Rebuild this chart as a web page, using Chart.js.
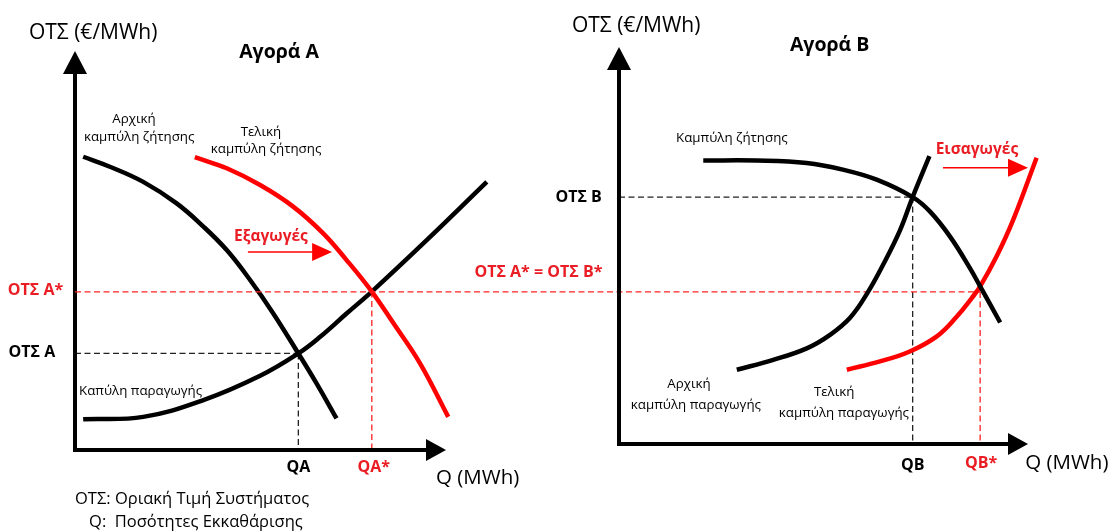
<!DOCTYPE html>
<html>
<head>
<meta charset="utf-8">
<script src="https://cdn.jsdelivr.net/npm/chart.js@4.4.0/dist/chart.umd.min.js"></script>
<style>
  body { margin: 0; background: #fff; }
  #wrap { position: relative; width: 1113px; height: 532px; }
  canvas { position: absolute; left: 0; top: 0; }
</style>
</head>
<body>
<div id="wrap">
  <canvas id="market-a" width="1113" height="532"></canvas>
  <canvas id="market-b" width="1113" height="532"></canvas>
</div>
<script>
// Αγορά Α  -- points are [Q, ΟΤΣ]
var demandA0 = [[2.2,73.5],[9.4,71],[18.4,67.2],[27.4,61.8],[34.6,56],[40.9,50.1],[47.2,42.6],[53.4,34.3],[60.2,24.2],[65.1,16.7],[70.5,7.9]];
var demandA1 = [[32.3,73.4],[40.9,70.6],[49.9,66.4],[58.8,61],[66.9,54.3],[73.2,47.6],[80,39.7],[85.8,31.8],[93,21.7],[100.6,8.3]];
var supplyA  = [[2.2,7.7],[18.4,8.3],[34.6,12.5],[49.9,18.6],[60.2,24.2],[66,28.3],[73.2,34.2],[80,39.7],[94.8,52.6],[111,67.2]];

// Αγορά Β
var demandB  = [[20.6,71.4],[33.7,71.4],[45.9,70.8],[54.8,69.1],[63,66.6],[71.8,62.2],[76,58.6],[80.9,52.3],[85.8,44.3],[88.3,39.7],[93.2,30.6]];
var supplyB0 = [[28.8,18.7],[37.7,21.2],[45.9,24.1],[51.6,27.5],[56.5,31.8],[60.6,37.8],[64.6,45.2],[68.7,53.8],[71.8,62.2],[75.9,72.5]];
var supplyB1 = [[55.7,18.7],[63.8,20.8],[71.1,23.3],[77.7,27.1],[82.6,32.1],[86.2,36.7],[88.3,39.7],[92.3,47.2],[96.4,56.5],[102.1,72.1]];

// equilibria [Q, ΟΤΣ]
var eqA  = [60.2, 24.2];
var eqAs = [80, 39.7];
var eqB  = [71.8, 62.2];
var eqBs = [88.3, 38.3];

// tick labels
var yLabelsA = ['ΟΤΣ Α', 'ΟΤΣ Α*'];
var xLabelsA = ['QA', 'QA*'];
var yLabelsB = ['ΟΤΣ Β', 'ΟΤΣ Α* = ΟΤΣ Β*'];
var xLabelsB = ['QB', 'QB*'];

var RED = '#ff0000';
var RED_TXT = '#ea1c24';
var FONT = "'Open Sans', 'Noto Sans', sans-serif";

function pts(arr) {
  return arr.map(function (d) { return { x: d[0], y: d[1] }; });
}

function curve(arr, color) {
  return {
    data: pts(arr),
    showLine: true,
    borderColor: color,
    borderWidth: 4.5,
    pointRadius: 0,
    tension: 0.4,
    clip: false
  };
}

function X(chart, q) { return chart.scales.x.getPixelForValue(q); }
function Y(chart, p) { return chart.scales.y.getPixelForValue(p); }

function txt(ctx, s, x, y, font, color, align) {
  ctx.save();
  ctx.font = font + ' ' + FONT;
  ctx.fillStyle = color;
  ctx.textAlign = align || 'center';
  ctx.textBaseline = 'middle';
  ctx.fillText(s, x, y);
  ctx.restore();
}

function dash(ctx, x1, y1, x2, y2, color) {
  ctx.save();
  ctx.strokeStyle = color;
  ctx.lineWidth = 1.3;
  ctx.setLineDash([6, 3.5]);
  ctx.beginPath();
  ctx.moveTo(x1, y1);
  ctx.lineTo(x2, y2);
  ctx.stroke();
  ctx.restore();
}

function tri(ctx, a, b, c, color) {
  ctx.save();
  ctx.fillStyle = color;
  ctx.beginPath();
  ctx.moveTo(a[0], a[1]);
  ctx.lineTo(b[0], b[1]);
  ctx.lineTo(c[0], c[1]);
  ctx.closePath();
  ctx.fill();
  ctx.restore();
}

function axes(chart) {
  var ctx = chart.ctx, a = chart.chartArea;
  ctx.save();
  ctx.strokeStyle = '#000';
  ctx.lineWidth = 4;
  ctx.beginPath();
  ctx.moveTo(a.left, a.top + 20);
  ctx.lineTo(a.left, a.bottom);
  ctx.lineTo(a.right - 18, a.bottom);
  ctx.stroke();
  ctx.restore();
  tri(ctx, [a.left - 12, a.top + 23], [a.left + 12, a.top + 23], [a.left, a.top], '#000');
  tri(ctx, [a.right - 20, a.bottom - 11], [a.right - 20, a.bottom + 11], [a.right, a.bottom], '#000');
}

function arrow(ctx, x1, x2, y) {
  ctx.save();
  ctx.strokeStyle = RED;
  ctx.lineWidth = 1.5;
  ctx.beginPath();
  ctx.moveTo(x1, y);
  ctx.lineTo(x2 - 18, y);
  ctx.stroke();
  ctx.restore();
  tri(ctx, [x2 - 20, y - 9], [x2 - 20, y + 9], [x2, y], RED);
}

// labels placed in data units of each market
var notesA = [
  { t: 'ΟΤΣ (€/MWh)', q: 4.9, p: 104.6, f: '21px', c: '#000' },
  { t: 'Αγορά Α', q: 55, p: 99.6, f: 'bold 19.5px', c: '#000' },
  { t: 'Αρχική', q: 15.9, p: 83, f: '13.3px', c: '#000' },
  { t: 'καμπύλη ζήτησης', q: 17.3, p: 78.4, f: '13.3px', c: '#000' },
  { t: 'Τελική', q: 50.1, p: 79.7, f: '13.3px', c: '#000' },
  { t: 'καμπύλη ζήτησης', q: 51.5, p: 75.4, f: '13.3px', c: '#000' },
  { t: 'Εξαγωγές', q: 52.8, p: 53.6, f: 'bold 15.5px', c: RED_TXT },
  { t: 'Καπύλη παραγωγής', q: 1.1, p: 14.8, f: '13.3px', c: '#000', a: 'left' },
  { t: 'Q (MWh)', q: 97.3, p: -7, f: '20.5px', c: '#000', a: 'left' },
  { t: 'ΟΤΣ: Οριακή Τιμή Συστήματος', q: 0, p: -12.3, f: '16.5px', c: '#000', a: 'left' },
  { t: 'Q:  Ποσότητες Εκκαθάρισης', q: 3.8, p: -18, f: '16.5px', c: '#000', a: 'left' }
];
var notesB = [
  { t: 'ΟΤΣ (€/MWh)', q: 4.2, p: 105.2, f: '21px', c: '#000' },
  { t: 'Αγορά Β', q: 51.5, p: 100.4, f: 'bold 19.5px', c: '#000' },
  { t: 'Καμπύλη ζήτησης', q: 27.6, p: 76.9, f: '13.3px', c: '#000' },
  { t: 'Εισαγωγές', q: 87.5, p: 74.1, f: 'bold 15.5px', c: RED_TXT },
  { t: 'Αρχική', q: 17.1, p: 15, f: '13.3px', c: '#000' },
  { t: 'καμπύλη παραγωγής', q: 18.8, p: 9.7, f: '13.3px', c: '#000' },
  { t: 'Τελική', q: 52.6, p: 13, f: '13.3px', c: '#000' },
  { t: 'καμπύλη παραγωγής', q: 55, p: 7.8, f: '13.3px', c: '#000' },
  { t: 'Q (MWh)', q: 99.3, p: -4.8, f: '20.5px', c: '#000', a: 'left' }
];

function drawNotes(chart, notes) {
  notes.forEach(function (n) {
    txt(chart.ctx, n.t, X(chart, n.q), Y(chart, n.p), n.f, n.c, n.a);
  });
}

var marketA = {
  id: 'marketA',
  beforeDatasetsDraw: function (chart) {
    var ctx = chart.ctx;
    dash(ctx, X(chart, 0), Y(chart, eqA[1]), X(chart, eqA[0]), Y(chart, eqA[1]), '#222');
    dash(ctx, X(chart, eqA[0]), Y(chart, eqA[1]), X(chart, eqA[0]), Y(chart, 0), '#222');
    dash(ctx, X(chart, eqAs[0]), Y(chart, eqAs[1]), X(chart, eqAs[0]), Y(chart, 0), '#f22');
  },
  afterDraw: function (chart) {
    var ctx = chart.ctx;
    axes(chart);
    drawNotes(chart, notesA);
    arrow(ctx, X(chart, 46.6), X(chart, 69.3), Y(chart, 49.6));
    txt(ctx, yLabelsA[0], X(chart, -17.9), Y(chart, eqA[1]) - 1, 'bold 16px', '#000', 'left');
    txt(ctx, yLabelsA[1], X(chart, -18.1), Y(chart, eqAs[1]) - 1, 'bold 16px', RED_TXT, 'left');
    txt(ctx, xLabelsA[0], X(chart, eqA[0]), Y(chart, -4.3), 'bold 16px', '#000');
    txt(ctx, xLabelsA[1], X(chart, eqAs[0]) + 2, Y(chart, -4.3), 'bold 16px', RED_TXT);
  }
};

var chartA = new Chart(document.getElementById('market-a'), {
  type: 'scatter',
  data: {
    datasets: [
      curve(demandA0, '#000'),
      curve(demandA1, RED),
      curve(supplyA, '#000')
    ]
  },
  options: {
    responsive: false,
    animation: false,
    events: [],
    layout: { padding: { left: 75, top: 51, right: 667, bottom: 82 } },
    scales: {
      x: { type: 'linear', min: 0, max: 100, display: false },
      y: { type: 'linear', min: 0, max: 100, display: false }
    },
    plugins: { legend: { display: false }, tooltip: { enabled: false } }
  },
  plugins: [marketA]
});

var marketB = {
  id: 'marketB',
  beforeDatasetsDraw: function (chart) {
    var ctx = chart.ctx;
    var startX = chartA ? chartA.scales.x.getPixelForValue(0) : 0;
    dash(ctx, X(chart, 0), Y(chart, eqB[1]), X(chart, eqB[0]), Y(chart, eqB[1]), '#222');
    dash(ctx, X(chart, eqB[0]), Y(chart, eqB[1]), X(chart, eqB[0]), Y(chart, 0), '#222');
    dash(ctx, startX, Y(chart, eqBs[1]), X(chart, eqBs[0]), Y(chart, eqBs[1]), '#f22');
    dash(ctx, X(chart, eqBs[0]), Y(chart, eqBs[1]), X(chart, eqBs[0]), Y(chart, 0), '#f22');
  },
  afterDraw: function (chart) {
    var ctx = chart.ctx;
    axes(chart);
    drawNotes(chart, notesB);
    arrow(ctx, X(chart, 79.2), X(chart, 100), Y(chart, 69.6));
    txt(ctx, yLabelsB[0], X(chart, -4.2), Y(chart, eqB[1]), 'bold 16px', '#000', 'right');
    txt(ctx, yLabelsB[1], X(chart, -19.7), Y(chart, 43.1), 'bold 16px', RED_TXT);
    txt(ctx, xLabelsB[0], X(chart, eqB[0]), Y(chart, -5.5), 'bold 16px', '#000');
    txt(ctx, xLabelsB[1], X(chart, eqBs[0]) + 1, Y(chart, -4.8), 'bold 16px', RED_TXT);
  }
};

var chartB = new Chart(document.getElementById('market-b'), {
  type: 'scatter',
  data: {
    datasets: [
      curve(demandB, '#000'),
      curve(supplyB0, '#000'),
      curve(supplyB1, RED)
    ]
  },
  options: {
    responsive: false,
    animation: false,
    events: [],
    layout: { padding: { left: 619, top: 47, right: 85, bottom: 88 } },
    scales: {
      x: { type: 'linear', min: 0, max: 100, display: false },
      y: { type: 'linear', min: 0, max: 100, display: false }
    },
    plugins: { legend: { display: false }, tooltip: { enabled: false } }
  },
  plugins: [marketB]
});
</script>
</body>
</html>
